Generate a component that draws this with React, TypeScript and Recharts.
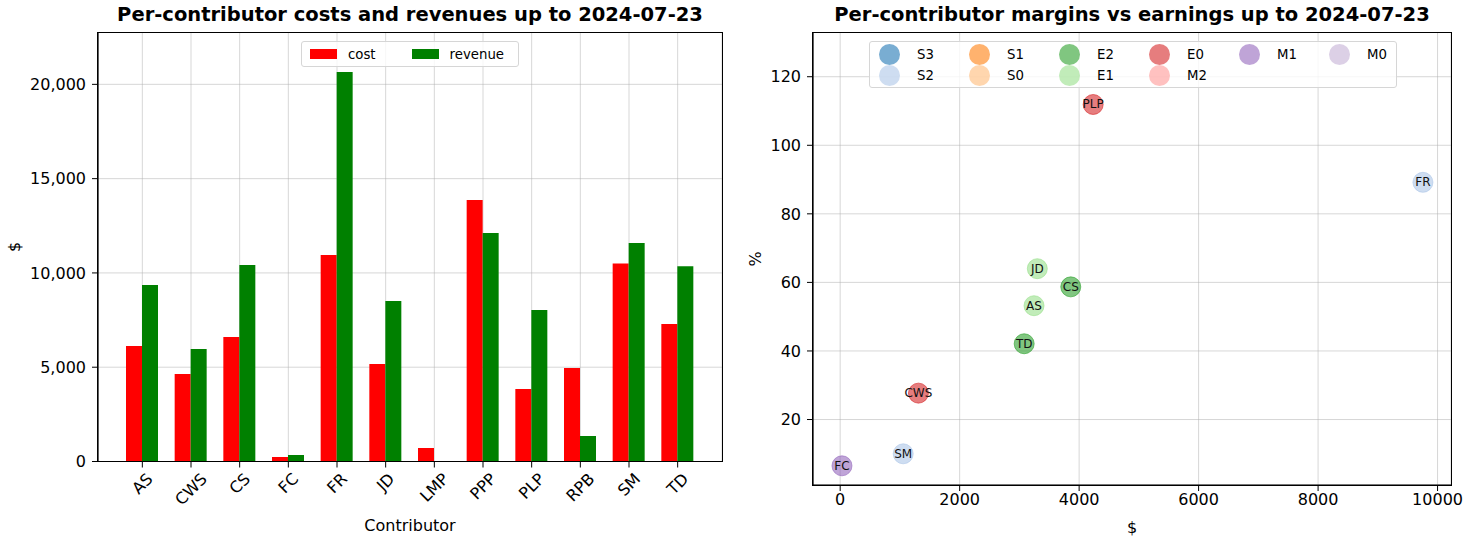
import {
  Bar,
  BarChart,
  CartesianGrid,
  Scatter,
  ScatterChart,
  XAxis,
  YAxis,
} from 'recharts';

const contributors = ['AS', 'CWS', 'CS', 'FC', 'FR', 'JD', 'LMP', 'PPP', 'PLP', 'RPB', 'SM', 'TD'];
const costs = [6120, 4640, 6600, 240, 10950, 5170, 715, 13870, 3840, 4960, 10500, 7290];
const revenues = [9360, 5960, 10420, 340, 20650, 8510, 0, 12120, 8030, 1350, 11590, 10350];
const costTicks = [0, 5000, 10000, 15000, 20000];

const pointNames = ['FC', 'SM', 'CWS', 'TD', 'AS', 'JD', 'CS', 'PLP', 'FR'];
const pointEarnings = [30, 1055, 1310, 3080, 3245, 3300, 3860, 4235, 9755];
const pointMargins = [6.5, 10.0, 27.7, 42.1, 53.2, 64.0, 58.7, 111.9, 89.2];
const pointClasses = ['M1', 'S2', 'E0', 'E2', 'E1', 'E1', 'E2', 'E0', 'S2'];
const earningTicks = [0, 2000, 4000, 6000, 8000, 10000];
const marginTicks = [20, 40, 60, 80, 100, 120];

const classNames = ['S3', 'S2', 'S1', 'S0', 'E2', 'E1', 'E0', 'M2', 'M1', 'M0'];
const classColors = [
  '#1f77b4', '#aec7e8', '#ff7f0e', '#ffbb78', '#2ca02c',
  '#98df8a', '#d62728', '#ff9896', '#9467bd', '#c5b0d5',
];

const barData = contributors.map((name, i) => ({ name, cost: costs[i], revenue: revenues[i] }));
const pointData = pointNames.map((name, i) => ({
  name,
  earnings: pointEarnings[i],
  margin: pointMargins[i],
  cls: pointClasses[i],
}));

const font = '"DejaVu Sans", sans-serif';
const gridStroke = '#b0b0b0';
const tickStyle = { fontSize: 16, fill: '#000', fontFamily: font };
const axisLine = { stroke: '#000', strokeWidth: 1.2 };

// plot boxes (left chart / right chart)
const barBox = { left: 98, top: 32.5, right: 722, bottom: 461.5 };
const dotBox = { left: 813, top: 32.5, right: 1451, bottom: 485 };

// rough DejaVu Sans glyph widths (em) for the rotated labels
const glyphW: Record<string, number> = {
  A: 0.684, S: 0.635, C: 0.698, W: 0.989, F: 0.575, R: 0.695, J: 0.295,
  D: 0.77, L: 0.557, M: 0.863, P: 0.603, B: 0.686, T: 0.611,
};

function RotatedTick({ x, y, payload }: any) {
  const label = String(payload.value);
  const w = label.split('').reduce((s, c) => s + (glyphW[c] ?? 0.65), 0) * 16;
  const cy = y + (w + 18.6) * 0.3536;
  return (
    <text
      x={x}
      y={cy}
      transform={`rotate(-45, ${x}, ${cy})`}
      textAnchor="middle"
      dominantBaseline="central"
      fontSize={16}
      fontFamily={font}
      fill="#000"
    >
      {label}
    </text>
  );
}

function makeDot(color: string) {
  return (props: any) => {
    const { cx, cy, payload } = props;
    return (
      <g>
        <circle cx={cx} cy={cy} r={10} fill={color} fillOpacity={0.6} stroke={color} strokeOpacity={0.6} />
        <text
          x={cx}
          y={cy}
          textAnchor="middle"
          dominantBaseline="central"
          fontSize={12}
          fontFamily={font}
          fill="#111"
        >
          {payload.name}
        </text>
      </g>
    );
  };
}

const titleStyle: React.CSSProperties = {
  position: 'absolute',
  top: 3,
  fontFamily: font,
  fontWeight: 'bold',
  fontSize: 19.5,
  whiteSpace: 'nowrap',
  transform: 'translateX(-50%)',
};

const labelStyle: React.CSSProperties = {
  position: 'absolute',
  fontFamily: font,
  fontSize: 16,
  whiteSpace: 'nowrap',
  transform: 'translate(-50%, -50%)',
};

function Frame({ box }: { box: { left: number; top: number; right: number; bottom: number } }) {
  return (
    <div
      style={{
        position: 'absolute',
        left: box.left - 0.6,
        top: box.top - 0.6,
        width: box.right - box.left + 1.2,
        height: box.bottom - box.top + 1.2,
        boxSizing: 'border-box',
        border: '1.2px solid #000',
        pointerEvents: 'none',
      }}
    />
  );
}

function CostLegend() {
  return (
    <div
      style={{
        position: 'absolute',
        left: 301,
        top: 41,
        width: 218,
        height: 26,
        boxSizing: 'border-box',
        border: '1px solid #d6d6d6',
        borderRadius: 3,
        background: 'rgba(255,255,255,0.8)',
        fontFamily: font,
        fontSize: 13.3,
        display: 'flex',
        alignItems: 'center',
      }}
    >
      <span style={{ marginLeft: 8, width: 27, height: 10, background: 'red' }} />
      <span style={{ marginLeft: 11 }}>cost</span>
      <span style={{ marginLeft: 36, width: 27, height: 10, background: 'green' }} />
      <span style={{ marginLeft: 11 }}>revenue</span>
    </div>
  );
}

function ClassLegend() {
  return (
    <div
      style={{
        position: 'absolute',
        left: 869,
        top: 41,
        width: 528,
        height: 47,
        boxSizing: 'border-box',
        border: '1px solid #d6d6d6',
        borderRadius: 3,
        background: 'rgba(255,255,255,0.8)',
        fontFamily: font,
        fontSize: 13.3,
      }}
    >
      {classNames.map((name, i) => {
        // matplotlib ncol=6: first four columns hold two entries, the last two hold one
        const col = i < 8 ? Math.floor(i / 2) : i - 4;
        const row = i < 8 ? i % 2 : 0;
        return (
          <div
            key={name}
            style={{
              position: 'absolute',
              left: 9 + col * 90,
              top: 2 + row * 21,
              height: 21,
              display: 'flex',
              alignItems: 'center',
            }}
          >
            <span
              style={{
                width: 21,
                height: 21,
                borderRadius: '50%',
                background: classColors[i],
                opacity: 0.6,
              }}
            />
            <span style={{ marginLeft: 17 }}>{name}</span>
          </div>
        );
      })}
    </div>
  );
}

export default function App() {
  return (
    <div style={{ position: 'absolute', left: 0, top: 0, width: 1482, height: 540, background: '#fff' }}>
      <div style={{ position: 'absolute', left: 0, top: 0 }}>
        <BarChart
          width={740}
          height={540}
          data={barData}
          barGap={0}
          barSize={16}
          margin={{ top: barBox.top, right: 740 - barBox.right, bottom: 0, left: 0 }}
        >
          <CartesianGrid stroke={gridStroke} strokeOpacity={0.5} />
          <XAxis
            dataKey="name"
            height={540 - barBox.bottom}
            padding={{ left: 20, right: 20 }}
            interval={0}
            tickSize={6}
            tickMargin={2}
            tick={<RotatedTick />}
            axisLine={axisLine}
            tickLine={{ stroke: '#000' }}
          />
          <YAxis
            width={barBox.left}
            domain={[0, 22750]}
            ticks={costTicks}
            allowDataOverflow
            tickSize={6}
            tickMargin={6}
            tick={tickStyle}
            tickFormatter={(v: number) => v.toLocaleString('en-US')}
            axisLine={axisLine}
            tickLine={{ stroke: '#000' }}
          />
          <Bar dataKey="cost" fill="red" isAnimationActive={false} />
          <Bar dataKey="revenue" fill="green" isAnimationActive={false} />
        </BarChart>
      </div>

      <div style={{ position: 'absolute', left: 740, top: 0 }}>
        <ScatterChart
          width={742}
          height={540}
          margin={{ top: dotBox.top, right: 1482 - dotBox.right, bottom: 0, left: 0 }}
        >
          <CartesianGrid stroke={gridStroke} strokeOpacity={0.5} />
          <XAxis
            type="number"
            dataKey="earnings"
            height={540 - dotBox.bottom}
            domain={[-455, 10225]}
            ticks={earningTicks}
            allowDataOverflow
            tickSize={6}
            tickMargin={3}
            tick={tickStyle}
            axisLine={axisLine}
            tickLine={{ stroke: '#000' }}
          />
          <YAxis
            type="number"
            dataKey="margin"
            width={dotBox.left - 740}
            domain={[0.9, 132.9]}
            ticks={marginTicks}
            allowDataOverflow
            tickSize={6}
            tickMargin={6}
            tick={tickStyle}
            axisLine={axisLine}
            tickLine={{ stroke: '#000' }}
          />
          {classNames.map((cls, i) => (
            <Scatter
              key={cls}
              name={cls}
              data={pointData.filter((p) => p.cls === cls)}
              fill={classColors[i]}
              shape={makeDot(classColors[i])}
              isAnimationActive={false}
            />
          ))}
        </ScatterChart>
      </div>

      <Frame box={barBox} />
      <Frame box={dotBox} />

      <div style={{ ...titleStyle, left: (barBox.left + barBox.right) / 2 }}>
        Per-contributor costs and revenues up to 2024-07-23
      </div>
      <div style={{ ...titleStyle, left: (dotBox.left + dotBox.right) / 2 }}>
        Per-contributor margins vs earnings up to 2024-07-23
      </div>

      <div style={{ ...labelStyle, left: 14, top: 247, transform: 'translate(-50%, -50%) rotate(-90deg)' }}>$</div>
      <div style={{ ...labelStyle, left: 410, top: 525 }}>Contributor</div>
      <div style={{ ...labelStyle, left: 755, top: 259, transform: 'translate(-50%, -50%) rotate(-90deg)' }}>%</div>
      <div style={{ ...labelStyle, left: 1132, top: 527 }}>$</div>

      <CostLegend />
      <ClassLegend />
    </div>
  );
}
